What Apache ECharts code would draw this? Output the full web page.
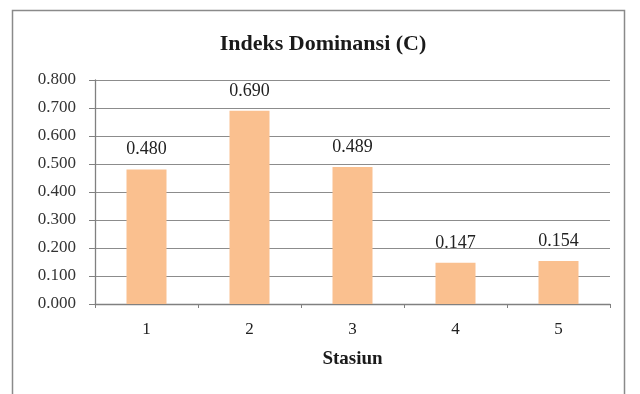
<!DOCTYPE html>
<html>
<head>
<meta charset="utf-8">
<script src="https://cdn.jsdelivr.net/npm/echarts@6/dist/echarts.min.js"></script>
<style>
  html, body { margin: 0; padding: 0; background: #fff; }
  #chart { width: 640px; height: 394px; }
</style>
</head>
<body>
<div id="chart"></div>
<script>
// Simpson dominance index per sampling station
const stations = ['1', '2', '3', '4', '5'];
const dominance = [0.480, 0.690, 0.489, 0.147, 0.154];
const yTicks = [0, 0.1, 0.2, 0.3, 0.4, 0.5, 0.6, 0.7, 0.8];

const serif = '"Liberation Serif", "DejaVu Serif", serif';
const chart = echarts.init(document.getElementById('chart'), null, { renderer: 'canvas' });

chart.setOption({
  animation: false,
  backgroundColor: '#fff',
  title: {
    text: 'Indeks Dominansi (C)',
    left: 318,
    top: 28,
    textAlign: 'center',
    textStyle: { fontFamily: serif, fontWeight: 'bold', fontSize: 22, color: '#1a1a1a' }
  },
  graphic: [{
    type: 'rect',
    shape: { x: 12.5, y: 10.5, width: 612, height: 400 },
    style: { fill: 'none', stroke: '#8a8a8a', lineWidth: 1.5 },
    silent: true
  }],
  grid: { left: 95, right: 30, top: 80, bottom: 90 },
  xAxis: {
    type: 'category',
    data: stations,
    name: 'Stasiun',
    nameLocation: 'middle',
    nameGap: 46,
    nameTextStyle: { fontFamily: serif, fontWeight: 'bold', fontSize: 19, color: '#1a1a1a' },
    axisLine: { lineStyle: { color: '#808080', width: 1.3 } },
    axisTick: { show: true, length: 4, lineStyle: { color: '#808080' } },
    axisLabel: { fontFamily: serif, fontSize: 17, color: '#222', margin: 17 }
  },
  yAxis: {
    type: 'value',
    min: yTicks[0],
    max: yTicks[yTicks.length - 1],
    interval: 0.1,
    axisLine: { show: true, lineStyle: { color: '#808080', width: 1.3 } },
    axisTick: { show: true, length: 6, lineStyle: { color: '#808080' } },
    axisLabel: {
      fontFamily: serif, fontSize: 17, color: '#333', margin: 19,
      formatter: v => v.toFixed(3)
    },
    splitLine: { show: true, lineStyle: { color: '#8c8c8c', width: 1.2 } }
  },
  series: [{
    type: 'bar',
    data: dominance,
    barWidth: 40,
    itemStyle: { color: '#FAC08F' },
    label: {
      show: true,
      position: 'top',
      distance: 11,
      fontFamily: serif,
      fontSize: 18,
      color: '#222',
      formatter: p => p.value.toFixed(3)
    }
  }]
});
</script>
</body>
</html>
